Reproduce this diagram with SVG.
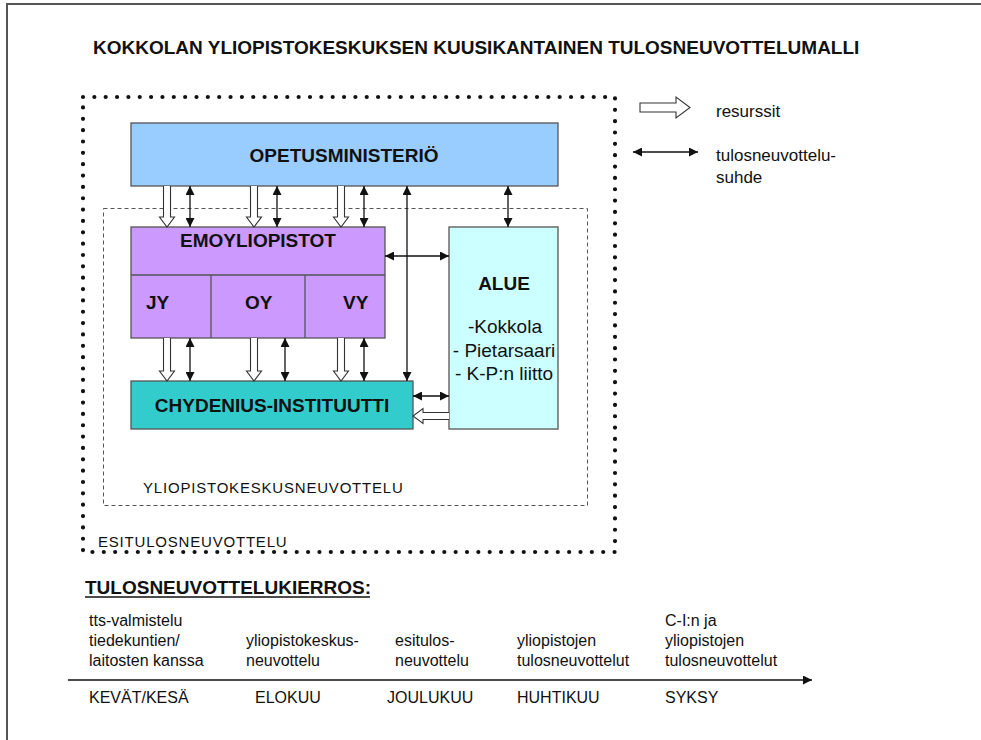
<svg xmlns="http://www.w3.org/2000/svg" width="981" height="740" viewBox="0 0 981 740">
<defs>
<style>
.t{font-family:"Liberation Sans",Arial,sans-serif;fill:#111}
.b{font-weight:bold}
.box{stroke:#555;stroke-width:1.3}
.ln{stroke:#111;stroke-width:1.3;fill:none}
.hol{fill:#fff;stroke:#333;stroke-width:1.1}
</style>
<marker id="ah" viewBox="0 0 10 10" refX="10" refY="5" markerWidth="9" markerHeight="9" markerUnits="userSpaceOnUse" orient="auto-start-reverse">
<path d="M0,0 L10,5 L0,10 z" fill="#111"/>
</marker>
</defs>
<rect width="981" height="740" fill="#fff"/>
<path d="M7,740 V4 H981" fill="none" stroke="#555" stroke-width="2"/>

<text class="t b" x="93" y="54" font-size="19">KOKKOLAN YLIOPISTOKESKUKSEN KUUSIKANTAINEN TULOSNEUVOTTELUMALLI</text>

<g id="esitulos">
<rect x="83" y="97" width="532" height="455" fill="none" stroke="#111" stroke-width="4.2" stroke-linecap="round" stroke-dasharray="0 11.35"/>
<text class="t" x="98" y="547" font-size="15" letter-spacing="0.8" fill="#333">ESITULOSNEUVOTTELU</text>
</g>
<g id="yliopistokeskus">
<rect x="103.5" y="208.5" width="484" height="297" fill="none" stroke="#555" stroke-width="1" stroke-dasharray="4 3"/>
<text class="t" x="143" y="493" font-size="15" letter-spacing="0.8" fill="#333">YLIOPISTOKESKUSNEUVOTTELU</text>
</g>

<g id="legend">
<path class="hol" d="M640,103 H676 V97 L690,107.5 L676,118 V112 H640 Z"/>
<text class="t" x="716" y="117" font-size="17">resurssit</text>
<line class="ln" x1="633" y1="152" x2="698" y2="152" marker-start="url(#ah)" marker-end="url(#ah)"/>
<text class="t" x="716" y="161" font-size="17">tulosneuvottelu-</text>
<text class="t" x="716" y="183" font-size="17">suhde</text>
</g>

<g id="opetusministerio">
<rect class="box" x="131" y="123" width="427" height="63" fill="#99ccff"/>
<text class="t b" x="344" y="162" font-size="19" text-anchor="middle">OPETUSMINISTERIÖ</text>
</g>

<g id="emoyliopistot">
<rect class="box" x="131" y="227" width="254" height="111" fill="#cc99ff"/>
<line class="box" x1="131" y1="275" x2="385" y2="275"/>
<line class="box" x1="211" y1="275" x2="211" y2="338"/>
<line class="box" x1="305" y1="275" x2="305" y2="338"/>
<text class="t b" x="258" y="247" font-size="19" text-anchor="middle">EMOYLIOPISTOT</text>
<text class="t b" x="146" y="309" font-size="19">JY</text>
<text class="t b" x="245" y="309" font-size="19">OY</text>
<text class="t b" x="343" y="309" font-size="19">VY</text>
</g>

<g id="alue">
<rect class="box" x="449" y="227" width="109" height="202" fill="#ccffff"/>
<text class="t b" x="504" y="290" font-size="19" text-anchor="middle">ALUE</text>
<text class="t" x="505" y="333" font-size="19" text-anchor="middle">-Kokkola</text>
<text class="t" x="504" y="357" font-size="19" text-anchor="middle">- Pietarsaari</text>
<text class="t" x="504" y="380" font-size="19" text-anchor="middle">- K-P:n liitto</text>
</g>

<g id="chydenius">
<rect class="box" x="131" y="381" width="282" height="48" fill="#33cccc"/>
<text class="t b" x="272" y="412" font-size="19" text-anchor="middle">CHYDENIUS-INSTITUUTTI</text>
</g>

<g id="connectors">
<path class="hol" d="M163.5,186 V217 H159.5 L167,227 L174.5,217 H170.5 V186"/>
<path class="hol" d="M250.5,186 V217 H246.5 L254,227 L261.5,217 H257.5 V186"/>
<path class="hol" d="M337.5,186 V217 H333.5 L341,227 L348.5,217 H344.5 V186"/>
<line class="ln" x1="190" y1="186" x2="190" y2="227" marker-start="url(#ah)" marker-end="url(#ah)"/>
<line class="ln" x1="277" y1="186" x2="277" y2="227" marker-start="url(#ah)" marker-end="url(#ah)"/>
<line class="ln" x1="364" y1="186" x2="364" y2="227" marker-start="url(#ah)" marker-end="url(#ah)"/>
<line class="ln" x1="508" y1="186" x2="508" y2="227" marker-start="url(#ah)" marker-end="url(#ah)"/>
<line class="ln" x1="407" y1="186" x2="407" y2="381" marker-start="url(#ah)" marker-end="url(#ah)"/>
<line class="ln" x1="385" y1="256" x2="449" y2="256" marker-start="url(#ah)" marker-end="url(#ah)"/>

<path class="hol" d="M163.5,338 V371 H159.5 L167,381 L174.5,371 H170.5 V338"/>
<path class="hol" d="M250.5,338 V371 H246.5 L254,381 L261.5,371 H257.5 V338"/>
<path class="hol" d="M337.5,338 V371 H333.5 L341,381 L348.5,371 H344.5 V338"/>
<line class="ln" x1="190" y1="338" x2="190" y2="381" marker-start="url(#ah)" marker-end="url(#ah)"/>
<line class="ln" x1="285" y1="338" x2="285" y2="381" marker-start="url(#ah)" marker-end="url(#ah)"/>
<line class="ln" x1="364" y1="338" x2="364" y2="381" marker-start="url(#ah)" marker-end="url(#ah)"/>

<line class="ln" x1="413" y1="396" x2="449" y2="396" marker-start="url(#ah)" marker-end="url(#ah)"/>
<path class="hol" d="M449,412.5 H423 V408.5 L413,416 L423,423.5 V419.5 H449"/>
</g>

<g id="timeline">
<text class="t b" x="85" y="594" font-size="19">TULOSNEUVOTTELUKIERROS:</text>
<line x1="85" y1="597" x2="370" y2="597" stroke="#111" stroke-width="1.6"/>
<line class="ln" x1="68" y1="680" x2="812" y2="680" marker-end="url(#ah)"/>
<g class="t" font-size="16" fill="#222">
<text x="89" y="626">tts-valmistelu</text>
<text x="89" y="646">tiedekuntien/</text>
<text x="89" y="666">laitosten kanssa</text>
<text x="246" y="646">yliopistokeskus-</text>
<text x="246" y="666">neuvottelu</text>
<text x="395" y="646">esitulos-</text>
<text x="395" y="666">neuvottelu</text>
<text x="517" y="646">yliopistojen</text>
<text x="517" y="666">tulosneuvottelut</text>
<text x="665" y="626">C-I:n ja</text>
<text x="665" y="646">yliopistojen</text>
<text x="665" y="666">tulosneuvottelut</text>
<text x="89" y="703">KEVÄT/KESÄ</text>
<text x="255" y="703">ELOKUU</text>
<text x="387" y="703">JOULUKUU</text>
<text x="517" y="703">HUHTIKUU</text>
<text x="665" y="703">SYKSY</text>
</g>
</g>
</svg>
